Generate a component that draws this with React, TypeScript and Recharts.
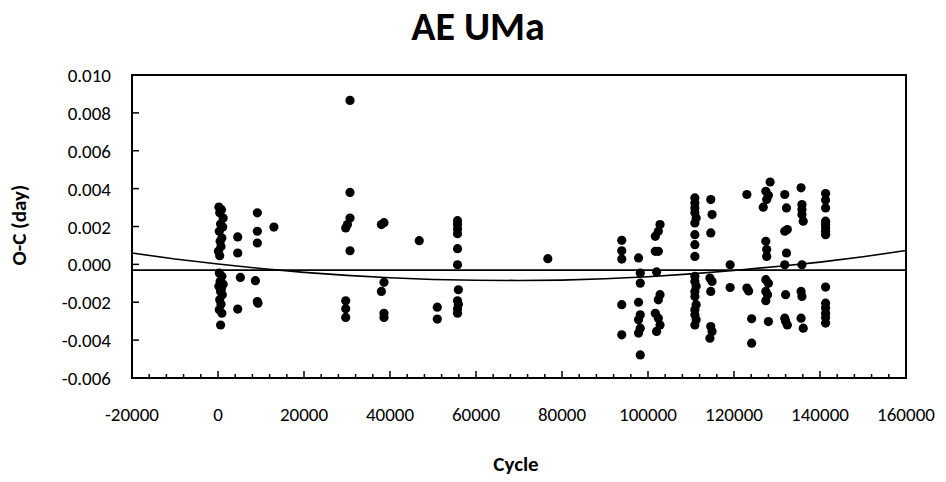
import { ScatterChart, Scatter, XAxis, YAxis, ReferenceLine, ReferenceArea } from "recharts";

// [cycle, O-C in days], one list per group of seasons
const earlyObs: [number, number][] = [
  [200, 0.00303], [800, 0.00289], [400, 0.00272], [1200, 0.00245], [600, 0.00213],
  [1100, 0.00197], [300, 0.00175], [900, 0.00139], [500, 0.00122], [700, 0.00095],
  [100, 0.00069], [400, 0.00046],
  [300, -0.00046], [900, -0.00063], [500, -0.0009], [1200, -0.00105], [200, -0.00116],
  [800, -0.0013], [600, -0.00143], [1000, -0.0016], [400, -0.00187], [700, -0.0021],
  [300, -0.0024], [900, -0.00258], [600, -0.0032],
  [4580, 0.00145], [4580, 0.0006], [5200, -0.00069], [4580, -0.00236],
  [9150, 0.00272], [9150, 0.00175], [9150, 0.00113], [8700, -0.00086], [9150, -0.00196], [9300, -0.00205],
  [13000, 0.00197],
];

const middleObs: [number, number][] = [
  [30700, 0.00866], [30700, 0.0038], [30700, 0.00245], [29700, 0.00192], [30100, 0.0021],
  [30700, 0.00072], [29700, -0.00192], [29700, -0.00234], [29700, -0.0028],
  [38000, 0.0021], [38600, 0.0022], [38600, -0.00095], [38000, -0.00143], [38600, -0.00258], [38600, -0.0028],
  [46800, 0.00125],
  [51000, -0.00226], [51000, -0.00289],
  [55700, 0.00231], [55700, 0.0021], [55700, 0.00187], [55700, 0.00162], [55700, 0.00083],
  [55700, -0.00002], [55900, -0.00134], [55700, -0.00192], [55900, -0.0021], [55700, -0.00234], [55700, -0.00258],
  [76700, 0.0003],
];

const lateObs: [number, number][] = [
  [93900, 0.00127], [93900, 0.00072], [93900, 0.00028], [93900, -0.00213], [93900, -0.00372],
  [97800, 0.00034], [98200, -0.00046], [98200, -0.00099], [97800, -0.002], [98200, -0.00266],
  [97800, -0.00293], [98200, -0.00337], [97800, -0.00363], [98200, -0.00478],
  [102800, 0.0021], [102400, 0.00175], [101700, 0.00148], [101700, 0.00069], [102400, 0.00069],
  [102000, -0.0004], [102800, -0.0016], [102400, -0.00187], [101700, -0.00258], [102400, -0.00284],
  [102800, -0.0032], [102000, -0.00354],
  [110900, 0.00351], [110900, 0.00324], [110900, 0.00298], [110900, 0.00272], [111200, 0.00245],
  [110900, 0.00219], [110900, 0.00157], [110900, 0.00104], [110900, 0.00042], [110900, -0.00063],
  [110900, -0.0009], [111200, -0.00116], [110900, -0.00143], [110900, -0.0017], [111200, -0.00213],
  [110900, -0.0024], [110900, -0.00266], [111200, -0.00293], [110900, -0.0032],
  [114600, 0.00342], [114900, 0.00263], [114600, 0.00166], [114400, -0.00072], [114900, -0.0009],
  [114600, -0.00143], [114600, -0.00328], [114900, -0.00354], [114400, -0.0039],
  [119100, -0.00002], [119100, -0.00122],
  [123000, 0.00369], [123000, -0.00125], [123400, -0.0014], [124100, -0.00287], [124100, -0.00416],
  [128400, 0.00435], [127400, 0.00386], [128000, 0.00365], [127600, 0.00342], [126800, 0.00302],
  [127400, 0.00122], [127600, 0.00078], [127600, 0.00042], [127400, -0.00081], [128000, -0.001],
  [127400, -0.00143], [127800, -0.0016], [127400, -0.00192], [128000, -0.00302],
  [131800, 0.00369], [132200, 0.00298], [132400, 0.00184], [131800, 0.00175], [132200, 0.0006],
  [131800, -0.00002], [132000, -0.0016], [131800, -0.00284], [132400, -0.0032], [132000, -0.003],
  [135600, 0.00404], [135800, 0.00316], [135800, 0.0029], [135800, 0.00263], [136100, 0.00228],
  [135800, -0.00002], [135600, -0.00143], [135800, -0.00169], [135600, -0.00284], [136100, -0.00337],
  [141300, 0.00374], [141300, 0.0034], [141300, 0.00298], [141300, 0.00228], [141300, 0.0021],
  [141300, 0.00193], [141300, 0.00175], [141300, 0.00157],
  [141300, -0.0012], [141300, -0.00205], [141300, -0.0023], [141300, -0.00258], [141300, -0.0028], [141300, -0.0031],
];

// quadratic fit curve
const fitCycles = [-20000, -10000, 0, 10000, 20000, 30000, 40000, 50000, 60000, 70000, 80000, 90000, 100000, 110000, 120000, 130000, 140000, 150000, 160000];
const fitValues = [0.0006, 0.00028, 0.00002, -0.00022, -0.00042, -0.00058, -0.00071, -0.0008, -0.00084, -0.00085, -0.00083, -0.00076, -0.00065, -0.0005, -0.00032, -0.00011, 0.00012, 0.0004, 0.00073];

const linearLevel = -0.0003;

const xMajorTicks = [-20000, 0, 20000, 40000, 60000, 80000, 100000, 120000, 140000, 160000];
const yTicks = [-0.006, -0.004, -0.002, 0, 0.002, 0.004, 0.006, 0.008, 0.01];

const points = [...earlyObs, ...middleObs, ...lateObs].map(([cycle, oc]) => ({ cycle, oc }));
const fitData = fitCycles.map((cycle, i) => ({ cycle, oc: fitValues[i] }));

// 4 minor ticks between majors
const xTicks: number[] = [];
for (let i = 0; i < xMajorTicks.length - 1; i++) {
  const step = (xMajorTicks[i + 1] - xMajorTicks[i]) / 5;
  for (let k = 0; k < 5; k++) xTicks.push(xMajorTicks[i] + k * step);
}
xTicks.push(xMajorTicks[xMajorTicks.length - 1]);

const FONT = "Calibri, Carlito, Lato, sans-serif";

const XTick = (props: any) => {
  const { x, y, payload } = props;
  const major = xMajorTicks.includes(payload.value);
  return (
    <g>
      <line x1={x} x2={x} y1={y} y2={y - (major ? 7 : 4)} stroke="#000" strokeWidth={1.5} />
      {major && (
        <text x={x} y={y + 43} textAnchor="middle" fontFamily={FONT} fontSize={19} fill="#000">
          {payload.value}
        </text>
      )}
    </g>
  );
};

const YTick = (props: any) => {
  const { x, y, payload } = props;
  return (
    <g>
      <line x1={x} x2={x + 7} y1={y} y2={y} stroke="#000" strokeWidth={1.5} />
      <text x={x - 21} y={y + 7} textAnchor="end" fontFamily={FONT} fontSize={19} fill="#000">
        {payload.value.toFixed(3)}
      </text>
    </g>
  );
};

const Dot = (props: any) => <circle cx={props.cx} cy={props.cy} r={4.6} fill="#000" />;
const NoDot = () => <g />;

export default function App() {
  return (
    <div style={{ position: "absolute", left: 0, top: 0, width: 946, height: 482, background: "#fff" }}>
      <ScatterChart width={946} height={482} margin={{ top: 75, right: 40, bottom: 0, left: 0 }}>
        <XAxis
          type="number"
          dataKey="cycle"
          domain={[-20000, 160000]}
          ticks={xTicks}
          interval={0}
          height={104}
          tickSize={0}
          tickMargin={0}
          axisLine={false}
          tickLine={false}
          tick={<XTick />}
        />
        <YAxis
          type="number"
          dataKey="oc"
          domain={[-0.006, 0.01]}
          ticks={yTicks}
          interval={0}
          width={132}
          tickSize={0}
          tickMargin={0}
          axisLine={false}
          tickLine={false}
          tick={<YTick />}
        />
        <ReferenceArea x1={-20000} x2={160000} y1={-0.006} y2={0.01} fill="none" stroke="#000" strokeWidth={2} />
        <ReferenceLine y={linearLevel} stroke="#000" strokeWidth={1.8} />
        <Scatter data={fitData} line={{ stroke: "#000", strokeWidth: 1.6 }} shape={<NoDot />} isAnimationActive={false} />
        <Scatter data={points} shape={<Dot />} isAnimationActive={false} />
      </ScatterChart>
      <svg width={946} height={482} style={{ position: "absolute", left: 0, top: 0, pointerEvents: "none" }}>
        <text x={478} y={40} textAnchor="middle" fontFamily={FONT} fontWeight="bold" fontSize={40} fill="#000">
          AE UMa
        </text>
        <text x={516} y={471} textAnchor="middle" fontFamily={FONT} fontWeight="bold" fontSize={21} fill="#000">
          Cycle
        </text>
        <text
          x={0}
          y={0}
          transform="translate(26,225) rotate(-90)"
          textAnchor="middle"
          fontFamily={FONT}
          fontWeight="bold"
          fontSize={21}
          fill="#000"
        >
          O-C (day)
        </text>
      </svg>
    </div>
  );
}
